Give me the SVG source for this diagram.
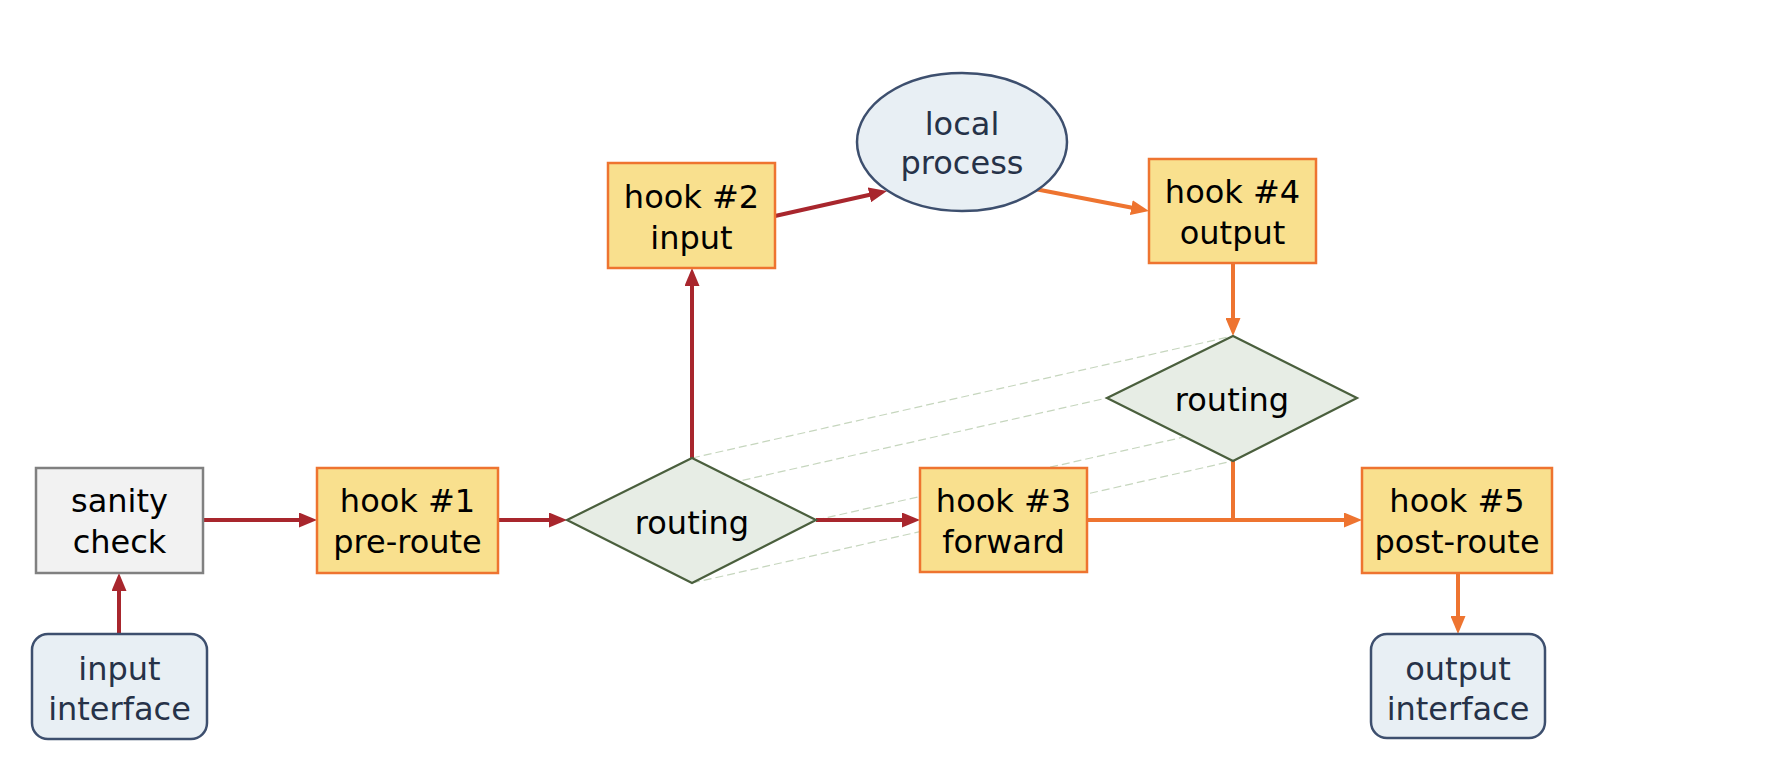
<svg xmlns="http://www.w3.org/2000/svg" width="1772" height="784" viewBox="0 0 1772 784">
<style>
.hook{fill:#F9E08E;stroke:#EE7430;stroke-width:2.5}
.gray{fill:#F2F2F2;stroke:#808080;stroke-width:2.5}
.iface{fill:#E8EFF4;stroke:#3D4F6E;stroke-width:2.5}
.dia{fill:#E7EDE5;stroke:#4A5F3D;stroke-width:2.2}
.t{font-family:"DejaVu Sans","Liberation Sans",sans-serif;font-size:32px;text-anchor:middle;fill:#000}
.tn{font-family:"DejaVu Sans","Liberation Sans",sans-serif;font-size:32px;text-anchor:middle;fill:#263248}
.red{stroke:#A8262D;stroke-width:4;fill:none}
.org{stroke:#EE7430;stroke-width:4;fill:none}
.dash{stroke:#C6D6BE;stroke-width:1.2;stroke-dasharray:8 4;fill:none}
</style>
<defs>
<marker id="ar" markerUnits="userSpaceOnUse" markerWidth="18" markerHeight="15" refX="5" refY="7.5" orient="auto" viewBox="0 0 18 15">
<path d="M0,0 L18,7.5 L0,15 z" fill="#A8262D"/>
</marker>
<marker id="ao" markerUnits="userSpaceOnUse" markerWidth="18" markerHeight="15" refX="5" refY="7.5" orient="auto" viewBox="0 0 18 15">
<path d="M0,0 L18,7.5 L0,15 z" fill="#EE7430"/>
</marker>
</defs>
<rect width="1772" height="784" fill="#FFFFFF"/>
<g id="guides">
<line class="dash" x1="692" y1="458" x2="1233" y2="336"/>
<line class="dash" x1="567" y1="520" x2="1107" y2="398"/>
<line class="dash" x1="816" y1="520" x2="1357" y2="398"/>
<line class="dash" x1="692" y1="583" x2="1233" y2="461"/>
</g>
<g id="connectors">
<line class="red" x1="119" y1="634" x2="119" y2="586" marker-end="url(#ar)"/>
<line class="red" x1="203" y1="520" x2="304" y2="520" marker-end="url(#ar)"/>
<line class="red" x1="498" y1="520" x2="554" y2="520" marker-end="url(#ar)"/>
<line class="red" x1="692" y1="458" x2="692" y2="281" marker-end="url(#ar)"/>
<line class="red" x1="775" y1="216" x2="874.3" y2="193.8" marker-end="url(#ar)"/>
<line class="red" x1="816" y1="520" x2="907" y2="520" marker-end="url(#ar)"/>
<line class="org" x1="1035" y1="189" x2="1136.2" y2="208.5" marker-end="url(#ao)"/>
<line class="org" x1="1233" y1="263" x2="1233" y2="323" marker-end="url(#ao)"/>
<line class="org" x1="1087" y1="520" x2="1349" y2="520" marker-end="url(#ao)"/>
<line class="org" x1="1233" y1="461" x2="1233" y2="520"/>
<line class="org" x1="1458" y1="573" x2="1458" y2="621" marker-end="url(#ao)"/>
</g>
<g id="input-interface">
<rect class="iface" x="32" y="634" width="175" height="105" rx="16"/>
<text class="tn" x="119.5" y="680">input</text>
<text class="tn" x="119.5" y="720">interface</text>
</g>
<g id="sanity-check">
<rect class="gray" x="36" y="468" width="167" height="105"/>
<text class="t" x="119.5" y="512">sanity</text>
<text class="t" x="119.5" y="553">check</text>
</g>
<g id="hook1">
<rect class="hook" x="317" y="468" width="181" height="105"/>
<text class="t" x="407.5" y="512">hook #1</text>
<text class="t" x="407.5" y="553">pre-route</text>
</g>
<g id="routing1">
<polygon class="dia" points="567,520 692,458 816,520 692,583"/>
<text class="t" x="692" y="534">routing</text>
</g>
<g id="hook2">
<rect class="hook" x="608" y="163" width="167" height="105"/>
<text class="t" x="691.5" y="208">hook #2</text>
<text class="t" x="691.5" y="249">input</text>
</g>
<g id="local-process">
<ellipse cx="962" cy="142" rx="105" ry="69" fill="#E8EFF4" stroke="#3D4F6E" stroke-width="2.5"/>
<text class="tn" x="962" y="135">local</text>
<text class="tn" x="962" y="174">process</text>
</g>
<g id="hook4">
<rect class="hook" x="1149" y="159" width="167" height="104"/>
<text class="t" x="1232.5" y="203">hook #4</text>
<text class="t" x="1232.5" y="244">output</text>
</g>
<g id="routing2">
<polygon class="dia" points="1107,398 1233,336 1357,398 1233,461"/>
<text class="t" x="1232" y="411">routing</text>
</g>
<g id="hook3">
<rect class="hook" x="920" y="468" width="167" height="104"/>
<text class="t" x="1003.5" y="512">hook #3</text>
<text class="t" x="1003.5" y="553">forward</text>
</g>
<g id="hook5">
<rect class="hook" x="1362" y="468" width="190" height="105"/>
<text class="t" x="1457" y="512">hook #5</text>
<text class="t" x="1457" y="553">post-route</text>
</g>
<g id="output-interface">
<rect class="iface" x="1371" y="634" width="174" height="104" rx="16"/>
<text class="tn" x="1458" y="680">output</text>
<text class="tn" x="1458" y="720">interface</text>
</g>
</svg>
